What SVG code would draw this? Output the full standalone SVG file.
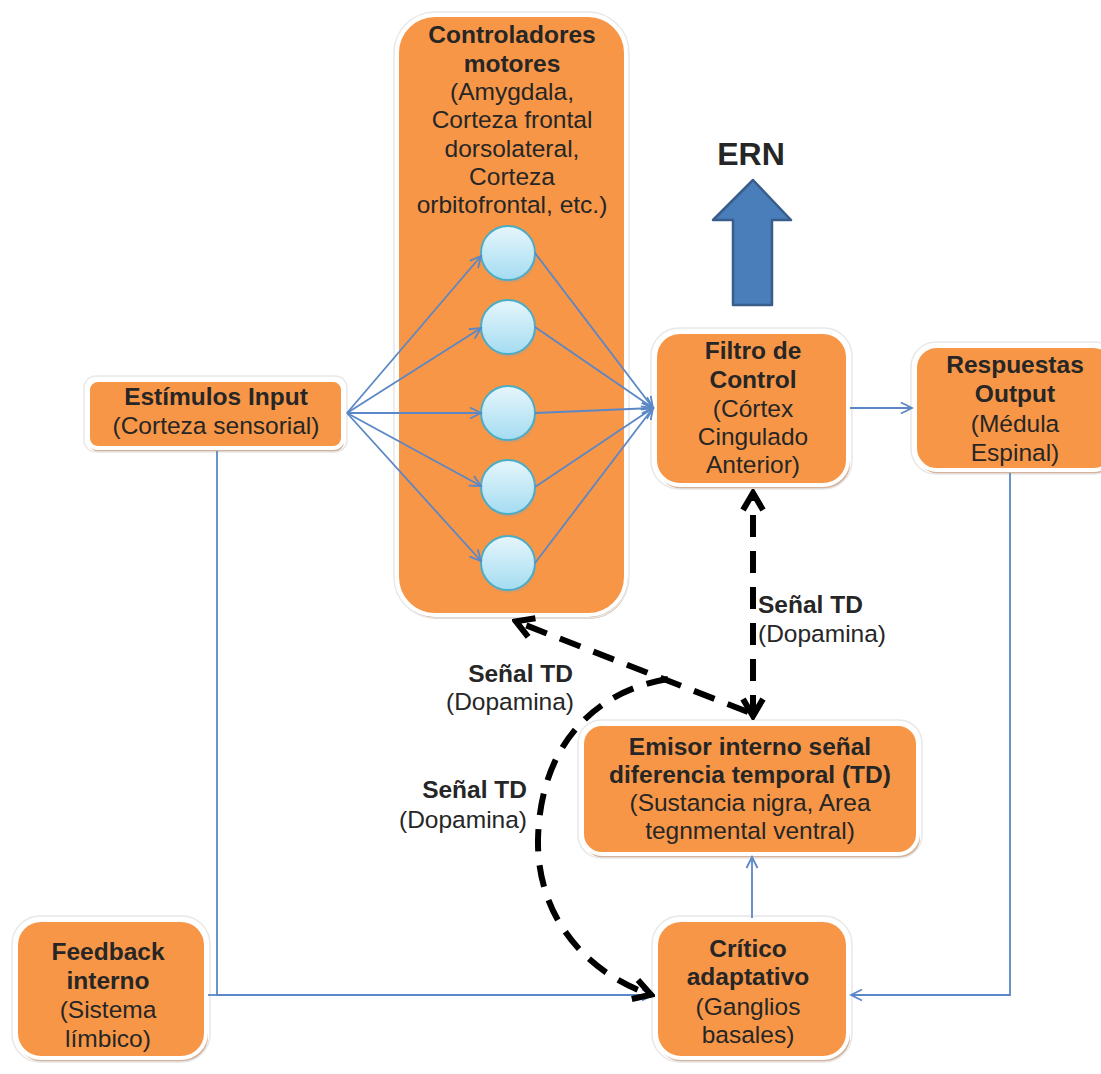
<svg xmlns="http://www.w3.org/2000/svg" width="1101" height="1074" viewBox="0 0 1101 1074">
<style>
.sh{fill:#c79a78;opacity:0.75}
.box{fill:#F79646;stroke:#ffffff;stroke-width:4}
.glow{fill:none;stroke:#e8e8e8;stroke-width:1.5}
text{font-family:"Liberation Sans",Arial,sans-serif;font-size:24.5px;fill:#262626;text-anchor:middle}
.b{font-weight:bold}
.r{text-anchor:end}
.l{text-anchor:start}
.blue{fill:none;stroke:#5b87c6;stroke-width:1.8}
.dash{fill:none;stroke:#000;stroke-width:6;stroke-dasharray:22 14}
.nd{fill:url(#cg);stroke:#4bacc6;stroke-width:2}
</style>
<defs>
<linearGradient id="cg" x1="0" y1="0" x2="0" y2="1">
<stop offset="0" stop-color="#e6f6fc"/>
<stop offset="1" stop-color="#a4dcf1"/>
</linearGradient>
<marker id="ba" viewBox="0 0 14 14" markerWidth="14" markerHeight="14" refX="12" refY="7" orient="auto" markerUnits="userSpaceOnUse">
<path d="M1,1.5 L12,7 L1,12.5" fill="none" stroke="#5b87c6" stroke-width="1.8"/>
</marker>
<marker id="ka" viewBox="0 0 26 26" markerWidth="26" markerHeight="26" refX="23" refY="13" orient="auto-start-reverse" markerUnits="userSpaceOnUse">
<path d="M5,3 L22,13 L5,23" fill="none" stroke="#000" stroke-width="6"/>
</marker>
</defs>

<g id="controladores">
<rect class="sh" x="399" y="19" width="229" height="600" rx="38"/>
<rect class="glow" x="394" y="12" width="235" height="606" rx="41"/>
<rect class="box" x="397" y="15" width="229" height="600" rx="38"/>
<text class="b" x="512" y="43">Controladores</text>
<text class="b" x="512" y="72">motores</text>
<text x="512" y="100">(Amygdala,</text>
<text x="512" y="128">Corteza frontal</text>
<text x="512" y="157">dorsolateral,</text>
<text x="512" y="185">Corteza</text>
<text x="512" y="213">orbitofrontal, etc.)</text>
</g>

<g id="neuronas">
<circle cx="509" cy="256" r="27" fill="#c79a78" opacity="0.6"/>
<circle class="nd" cx="508" cy="253" r="27"/>
<circle cx="509" cy="330" r="27" fill="#c79a78" opacity="0.6"/>
<circle class="nd" cx="508" cy="327" r="27"/>
<circle cx="509" cy="416" r="27" fill="#c79a78" opacity="0.6"/>
<circle class="nd" cx="508" cy="413" r="27"/>
<circle cx="509" cy="490" r="27" fill="#c79a78" opacity="0.6"/>
<circle class="nd" cx="508" cy="487" r="27"/>
<circle cx="509" cy="566" r="27" fill="#c79a78" opacity="0.6"/>
<circle class="nd" cx="508" cy="563" r="27"/>
</g>

<g id="estimulos">
<rect class="sh" x="89" y="384" width="255" height="68" rx="10"/>
<rect class="glow" x="84" y="376" width="263" height="76" rx="12"/>
<rect class="box" x="88" y="380" width="255" height="68" rx="10"/>
<text class="b" x="216" y="405">Estímulos Input</text>
<text x="216" y="434">(Corteza sensorial)</text>
</g>

<g id="filtro">
<rect class="sh" x="657" y="336" width="193" height="153" rx="25"/>
<rect class="glow" x="651" y="328" width="201" height="161" rx="28"/>
<rect class="box" x="655" y="332" width="193" height="153" rx="25"/>
<text class="b" x="753" y="359">Filtro de</text>
<text class="b" x="753" y="388">Control</text>
<text x="753" y="417">(Córtex</text>
<text x="753" y="445">Cingulado</text>
<text x="753" y="473">Anterior)</text>
</g>

<g id="respuestas">
<rect class="sh" x="917" y="350" width="200" height="124" rx="22"/>
<rect class="glow" x="911" y="342" width="208" height="132" rx="25"/>
<rect class="box" x="915" y="346" width="200" height="124" rx="22"/>
<text class="b" x="1015" y="373">Respuestas</text>
<text class="b" x="1015" y="402">Output</text>
<text x="1015" y="432">(Médula</text>
<text x="1015" y="461">Espinal)</text>
</g>

<g id="ern">
<text class="b" x="751" y="165" style="font-size:32px">ERN</text>
<path d="M753,180 L791,220 L772,220 L772,305 L733,305 L733,220 L713,220 Z" fill="#4a7ebb" stroke="#385d8a" stroke-width="2.5" stroke-linejoin="round"/>
</g>

<g id="emisor">
<rect class="sh" x="584" y="728" width="336" height="130" rx="20"/>
<rect class="glow" x="578" y="720" width="344" height="138" rx="23"/>
<rect class="box" x="582" y="724" width="336" height="130" rx="20"/>
<text class="b" x="750" y="755">Emisor interno señal</text>
<text class="b" x="750" y="783">diferencia temporal (TD)</text>
<text x="750" y="811">(Sustancia nigra, Area</text>
<text x="750" y="839">tegnmental ventral)</text>
</g>

<g id="critico">
<rect class="sh" x="658" y="924" width="192" height="138" rx="25"/>
<rect class="glow" x="652" y="916" width="200" height="146" rx="28"/>
<rect class="box" x="656" y="920" width="192" height="138" rx="25"/>
<text class="b" x="748" y="957">Crítico</text>
<text class="b" x="748" y="985">adaptativo</text>
<text x="748" y="1015">(Ganglios</text>
<text x="748" y="1043">basales)</text>
</g>

<g id="feedback">
<rect class="sh" x="18" y="924" width="190" height="138" rx="25"/>
<rect class="glow" x="12" y="916" width="198" height="146" rx="28"/>
<rect class="box" x="16" y="920" width="190" height="138" rx="25"/>
<text class="b" x="108" y="960">Feedback</text>
<text class="b" x="108" y="989">interno</text>
<text x="108" y="1018">(Sistema</text>
<text x="108" y="1047">límbico)</text>
</g>

<g id="connectors">
<line class="blue" x1="347" y1="413" x2="481" y2="256" marker-end="url(#ba)"/>
<line class="blue" x1="347" y1="413" x2="481" y2="328" marker-end="url(#ba)"/>
<line class="blue" x1="347" y1="413" x2="481" y2="413" marker-end="url(#ba)"/>
<line class="blue" x1="347" y1="413" x2="481" y2="486" marker-end="url(#ba)"/>
<line class="blue" x1="347" y1="413" x2="481" y2="561" marker-end="url(#ba)"/>
<line class="blue" x1="535" y1="253" x2="653" y2="408" marker-end="url(#ba)"/>
<line class="blue" x1="535" y1="327" x2="653" y2="408" marker-end="url(#ba)"/>
<line class="blue" x1="535" y1="413" x2="653" y2="408" marker-end="url(#ba)"/>
<line class="blue" x1="535" y1="487" x2="653" y2="408" marker-end="url(#ba)"/>
<line class="blue" x1="535" y1="563" x2="653" y2="408" marker-end="url(#ba)"/>
<line class="blue" x1="850" y1="408" x2="912" y2="408" marker-end="url(#ba)"/>
<polyline class="blue" points="217,451 217,995 653,995" marker-end="url(#ba)"/>
<line class="blue" x1="208" y1="995" x2="217" y2="995"/>
<polyline class="blue" points="1010,473 1010,995 851,995" marker-end="url(#ba)"/>
<line class="blue" x1="752" y1="918" x2="752" y2="857" marker-end="url(#ba)"/>
<path class="dash" d="M753,717 L753,492" marker-start="url(#ka)" marker-end="url(#ka)"/>
<path class="dash" d="M748,712 L515,621" marker-end="url(#ka)"/>
<path class="dash" d="M668,679 C600,690 540,740 538,840 C537,920 590,975 652,995" marker-end="url(#ka)"/>
</g>

<g id="labels">
<text class="b l" x="758" y="613">Señal TD</text>
<text class="l" x="758" y="642">(Dopamina)</text>
<text class="b r" x="573" y="682">Señal TD</text>
<text class="r" x="574" y="710">(Dopamina)</text>
<text class="b r" x="527" y="798">Señal TD</text>
<text class="r" x="527" y="828">(Dopamina)</text>
</g>
</svg>
